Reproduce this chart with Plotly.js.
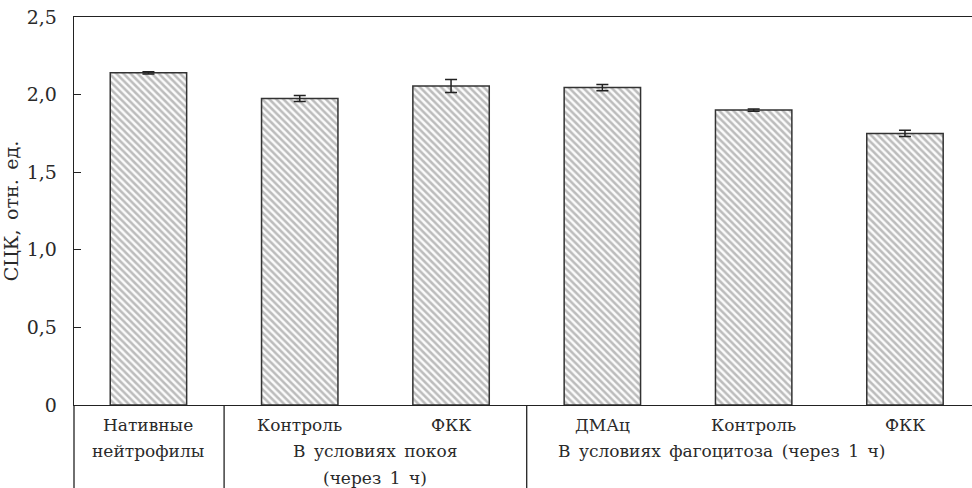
<!DOCTYPE html>
<html>
<head>
<meta charset="utf-8">
<script src="https://cdn.plot.ly/plotly-3.0.1.min.js"></script>
<style>html,body{margin:0;padding:0;background:#fff;}</style>
</head>
<body>
<div id="chart" style="width:972px;height:488px;"></div>
<script>
// Data
const categories = ['Нативные нейтрофилы', 'Контроль', 'ФКК', 'ДМАц', 'Контроль', 'ФКК'];
const barLabelsTop = ['Нативные', 'Контроль', 'ФКК', 'ДМАц', 'Контроль', 'ФКК'];
const values = [2.14, 1.975, 2.055, 2.045, 1.90, 1.75];
const errors = [0.008, 0.02, 0.042, 0.02, 0.008, 0.02];
const groupLabels = ['нейтрофилы', 'В условиях покоя', '(через 1 ч)', 'В условиях фагоцитоза (через 1 ч)'];
const yTickVals = [0, 0.5, 1.0, 1.5, 2.0, 2.5];
const yTickText = ['0', '0,5', '1,0', '1,5', '2,0', '2,5'];
const yTitle = 'СЦК, отн. ед.';

const xIdx = categories.map((_, i) => i);
const xRange = [-0.492, 5.443];
const FONT = 'DejaVu Serif, serif';
const fs = 17;
const TXT = '#2a2a2a';
const wide = s => s.replace(/ /g, '\u2002');

const trace = {
  type: 'bar',
  x: xIdx,
  y: values,
  width: 0.505,
  marker: {
    color: '#fbfbfb',
    line: {color: '#333', width: 1.5},
    pattern: {shape: '\\', fgcolor: '#bcbcbc', bgcolor: '#fbfbfb', size: 5, solidity: 0.5}
  },
  error_y: {type: 'data', array: errors, visible: true, color: '#222', thickness: 1.5, width: 6},
  hoverinfo: 'skip'
};

function px(xd) { return (xd - xRange[0]) / (xRange[1] - xRange[0]); }
const row = y => (405 - y) / 388;

const annotations = [];
function ann(x, y, t) {
  annotations.push({x: x, xref: 'x', y: row(y), yref: 'paper', text: wide(t), showarrow: false,
    xanchor: 'center', yanchor: 'middle', font: {family: FONT, size: fs, color: TXT}});
}
barLabelsTop.forEach((t, i) => ann(i, 425, t));
ann(0, 451, groupLabels[0]);
ann(1.5, 451, groupLabels[1]);
ann(1.5, 478, groupLabels[2]);
ann(3.79, 451, groupLabels[3]);

const yBottom = -83 / 388;
const shapes = [0, px(0.5), px(2.5)].map(xp => ({
  type: 'line', xref: 'paper', yref: 'paper', x0: xp, x1: xp, y0: 0, y1: yBottom,
  line: {color: '#222', width: 1.3}
}));

const layout = {
  width: 972, height: 488,
  margin: {l: 74, r: 0, t: 17, b: 83},
  paper_bgcolor: '#fff', plot_bgcolor: '#fff',
  showlegend: false,
  font: {family: FONT, size: fs, color: TXT},
  xaxis: {
    range: xRange, showticklabels: false, ticks: '', showgrid: false, zeroline: false,
    showline: true, mirror: true, linecolor: '#222', linewidth: 1.3, fixedrange: true
  },
  yaxis: {
    range: [0, 2.5], tickvals: yTickVals, ticktext: yTickText,
    ticks: 'inside', ticklen: 7, tickwidth: 1.2, tickcolor: '#222',
    showgrid: false, zeroline: false, showline: true, linecolor: '#222', linewidth: 1.3,
    ticklabelstandoff: 12,
    tickfont: {family: FONT, size: 19, color: TXT},
    title: {text: wide(yTitle), font: {family: FONT, size: 19, color: TXT}, standoff: 9},
    fixedrange: true
  },
  annotations: annotations,
  shapes: shapes
};

Plotly.newPlot('chart', [trace], layout, {displayModeBar: false, staticPlot: true});
</script>
</body>
</html>
